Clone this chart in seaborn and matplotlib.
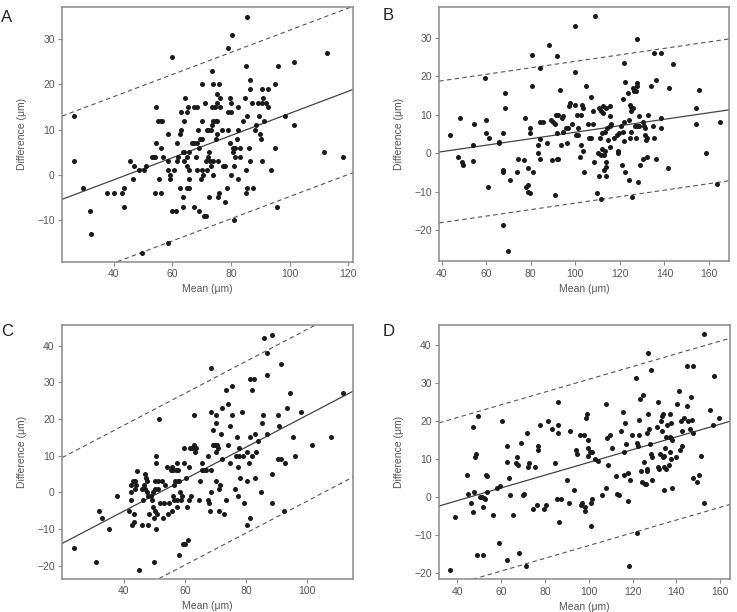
import numpy as np
import pandas as pd
import matplotlib
matplotlib.use("Agg")
import matplotlib.pyplot as plt
import seaborn as sns

# ---------------- Panel A ----------------
a_mean = [26.5, 26.5, 29.4, 31.9, 32.4, 37.8, 40.0, 43.0, 43.5, 43.5, 45.6, 46.5, 46.9, 48.5, 50.5,
          51.0, 49.5, 53.1, 53.8, 54.2, 54.0, 54.4, 54.4, 55.2, 56.0, 55.5, 56.0, 56.0, 56.9, 56.5,
          58.4, 58.6, 58.6, 59.1, 58.5, 59.2, 60.0, 60.0, 61.1, 60.6, 61.5, 61.5, 62.0, 62.6, 62.6,
          63.1, 63.1, 63.5, 63.5, 63.6, 64.0, 64.0, 64.1, 64.4, 64.9, 64.9, 65.1, 65.1, 65.5, 65.7,
          65.7, 65.8, 65.7, 66.6, 67.4, 67.4, 67.4, 68.1, 68.3, 68.5, 68.5, 68.9, 69.1, 69.2, 69.4,
          69.9, 70.0, 70.0, 70.1, 70.0, 70.6, 70.8, 71.1, 71.5, 71.5, 71.7, 71.9, 72.2, 72.2, 72.6,
          72.6, 73.1, 73.1, 72.8, 73.5, 73.5, 73.5, 73.8, 74.0, 74.0, 74.0, 74.4, 74.8, 74.9, 75.1,
          75.1, 75.3, 75.3, 75.7, 75.7, 75.9, 76.0, 76.3, 76.3, 77.0, 77.2, 78.1, 78.1, 78.5, 79.0,
          79.0, 79.0, 79.7, 79.7, 80.1, 80.1, 80.1, 80.5, 80.6, 80.8, 81.0, 81.0, 81.4, 81.4, 81.9,
          82.4, 82.4, 82.5, 83.1, 83.1, 84.2, 84.8, 85.0, 85.1, 85.1, 85.3, 85.6, 85.6, 86.0, 86.5,
          86.5, 86.5, 87.0, 87.6, 88.2, 88.5, 89.3, 89.5, 89.9, 90.1, 90.5, 90.6, 90.8, 90.6, 91.3,
          91.9, 92.5, 92.5, 93.5, 95.1, 95.1, 95.6, 96.0, 98.5, 101.5, 101.5, 111.7, 112.7, 118.3]
a_diff = [13.0, 3.0, -3.0, -8.0, -13.1, -4.0, -4.0, -4.0, -3.0, -7.0, 3.0, -1.0, 2.0, 1.0, 1.0,
          2.0, -17.2, 4.0, 4.0, 4.0, -4.0, 15.0, 7.0, 12.0, 12.0, -1.0, 6.0, -4.0, 4.0, 12.0,
          9.0, 3.0, 1.0, 0.0, -15.0, -1.0, 26.0, -8.0, -8.0, 1.0, 3.0, 7.0, 4.0, -3.0, 9.0,
          10.0, 14.0, -5.0, -7.0, 5.0, 3.0, 5.0, 12.0, 17.0, 2.0, 4.0, -3.0, 14.0, 15.0, 1.0,
          -3.0, -1.0, 5.0, 7.0, 7.0, -7.0, 15.0, 4.0, 15.0, 1.0, 7.0, 10.0, -8.0, 6.0, 8.0,
          -1.0, 1.0, 12.0, 20.0, 8.0, 0.0, -9.0, 16.0, 3.0, -9.0, 1.0, 10.0, 4.0, 10.0, -5.0,
          5.0, 2.0, 10.0, 3.0, 23.0, 11.0, 15.0, 0.0, 3.0, 12.0, 20.0, 15.0, 12.0, 8.0, 18.0,
          16.0, 12.0, 9.0, -5.0, 3.0, 20.0, -4.0, 15.0, 17.0, 10.0, 2.0, 2.0, -6.0, -3.0, 10.0,
          14.0, 28.0, 17.0, 7.0, 14.0, 16.0, 0.0, 31.0, 5.0, 6.0, -10.0, 2.0, 6.0, 4.0, 8.0,
          10.0, 15.0, -1.0, 6.0, 4.0, 12.0, 17.0, 24.0, 1.0, -4.0, 13.0, 35.0, -3.0, 6.0, 21.0,
          19.0, 3.0, 16.0, -3.0, 10.0, 11.0, 16.0, 13.0, 9.0, 8.0, 16.0, 19.0, 17.0, 3.0, 12.0,
          16.0, 19.0, 15.0, 1.0, 20.0, 6.0, -7.0, 24.0, 13.0, 25.0, 11.0, 5.0, 27.0, 4.0]

# ---------------- Panel B ----------------
b_mean = [43.9, 47.6, 48.5, 49.4, 49.7, 54.2, 54.2, 54.5, 59.4, 59.9, 60.0, 60.8, 61.2, 65.7, 66.0,
          67.7, 67.7, 67.8, 67.4, 68.4, 68.4, 69.9, 70.8, 73.8, 74.1, 77.2, 77.5, 78.0, 78.7, 79.0,
          79.0, 79.5, 79.8, 79.9, 80.5, 80.5, 81.0, 83.1, 83.4, 84.0, 84.4, 84.4, 84.4, 85.3, 87.1,
          88.3, 88.9, 89.4, 89.8, 90.9, 90.9, 91.3, 91.6, 91.8, 91.9, 92.2, 92.4, 93.3, 93.6, 93.9,
          94.3, 94.6, 95.8, 96.1, 96.7, 97.1, 97.6, 98.5, 99.8, 99.8, 100.1, 100.3, 100.6, 101.2, 101.2,
          102.1, 102.4, 102.5, 103.1, 103.3, 103.6, 104.0, 104.6, 105.5, 106.3, 107.2, 107.2, 107.8, 107.8, 108.5,
          108.8, 109.7, 110.3, 110.6, 110.8, 110.9, 111.4, 111.4, 111.7, 111.8, 112.1, 112.4, 112.6, 112.8, 113.0,
          113.3, 113.4, 113.6, 113.6, 113.7, 114.0, 114.3, 114.6, 115.5, 115.7, 115.8, 115.8, 116.1, 117.3, 118.8,
          119.3, 119.3, 119.7, 120.7, 121.1, 121.2, 121.5, 121.8, 121.8, 122.0, 122.1, 122.3, 123.5, 123.9, 124.2,
          124.4, 124.7, 124.8, 125.1, 125.1, 125.3, 125.7, 126.0, 126.3, 126.8, 127.1, 127.4, 127.5, 127.7, 127.7,
          127.8, 128.3, 128.4, 128.7, 129.0, 130.2, 130.5, 131.0, 131.3, 131.4, 131.7, 132.0, 132.3, 132.6, 133.8,
          135.0, 135.4, 135.4, 136.0, 136.2, 138.3, 138.3, 138.6, 141.6, 142.0, 144.0, 154.0, 154.0, 155.5, 158.6,
          163.7, 164.8]
b_diff = [4.6, -1.0, 9.1, -2.4, -3.0, 2.1, -2.0, 7.6, 19.5, 5.1, 8.5, -8.9, 4.0, 3.0, 2.6,
          5.1, -4.4, -4.9, -18.6, 15.6, 11.6, -25.4, -6.9, -4.9, -1.5, -1.9, 9.1, -8.9, -8.4, -3.9,
          -10.0, -10.4, 5.1, 6.6, 25.5, 17.5, -4.9, 0.1, 2.1, -1.5, 22.0, 8.0, 3.6, 8.0, 2.6,
          28.0, 8.5, -1.9, 8.0, 7.6, -11.0, 10.0, -1.5, 5.1, 25.1, -1.5, 10.0, 16.5, 2.1, 9.1,
          9.6, 5.5, 6.6, 2.6, 6.6, 12.1, 13.0, 7.6, 33.0, 21.1, 12.5, 4.6, 10.0, 6.6, 4.6,
          -1.0, 10.0, 2.1, 12.5, 0.5, 11.6, -4.9, 17.5, 7.6, 4.0, 14.5, 4.0, 11.0, 7.6, -2.4,
          35.6, -10.4, 0.1, -5.9, 11.6, 4.0, -0.5, -12.0, 11.0, 5.1, 1.0, 10.5, 12.1, -0.5, -4.4,
          5.5, 0.6, 11.6, -5.9, -3.5, -2.4, 6.6, 3.5, 12.1, 9.6, 1.6, 7.1, 7.6, 4.0, 4.6,
          0.1, 0.6, 5.1, 7.1, -3.0, 5.5, 14.1, 23.5, 8.0, 3.1, -4.9, 18.5, 15.6, -6.9, 8.5,
          12.5, 4.0, 5.5, 11.0, 12.0, -11.4, 17.0, 11.6, 16.1, 7.1, 16.1, 4.0, 18.1, 17.5, 29.6,
          7.1, -7.5, 7.1, 9.6, -3.0, -1.5, 8.0, 7.1, 4.6, 6.6, 3.5, -1.0, 4.0, 10.0, 17.5,
          7.1, 26.1, 4.0, 19.0, -1.5, 9.1, 6.6, 26.1, -3.9, 17.0, 23.1, 11.6, 7.6, 16.5, 0.1,
          -8.0, 8.0]

# ---------------- Panel C ----------------
c_mean = [23.8, 30.9, 31.9, 32.8, 35.3, 37.9, 41.9, 42.3, 42.4, 42.4, 42.9, 43.0, 43.4, 43.4, 43.7,
          43.8, 44.1, 44.5, 44.9, 45.9, 46.1, 46.5, 46.7, 46.9, 47.1, 47.3, 47.5, 47.8, 48.0, 48.1,
          48.4, 48.8, 49.2, 49.5, 49.7, 49.9, 49.9, 50.1, 50.1, 50.4, 50.5, 50.5, 50.6, 50.8, 51.2,
          51.3, 51.7, 51.9, 52.4, 53.0, 53.1, 53.5, 54.1, 54.4, 54.9, 55.4, 55.8, 55.9, 56.0, 56.2,
          56.5, 56.6, 56.9, 57.1, 57.3, 57.5, 57.6, 57.8, 57.9, 58.0, 58.2, 58.5, 58.7, 59.1, 59.4,
          59.6, 59.6, 60.2, 60.5, 60.7, 60.9, 61.2, 61.5, 61.7, 61.9, 62.5, 63.0, 63.1, 63.3, 63.4,
          63.8, 64.6, 65.1, 65.5, 65.7, 66.2, 66.9, 67.6, 67.7, 68.0, 68.1, 68.6, 68.6, 68.6, 68.7,
          69.2, 69.3, 69.8, 70.2, 70.2, 70.2, 70.2, 70.6, 70.7, 71.0, 71.1, 71.5, 71.7, 72.1, 72.2,
          72.8, 73.6, 73.6, 74.0, 74.2, 74.6, 74.7, 75.3, 75.3, 76.4, 76.7, 77.1, 77.2, 77.3, 77.6,
          77.8, 77.9, 78.7, 78.9, 79.3, 80.2, 80.3, 80.4, 80.8, 81.3, 81.4, 81.3, 81.8, 81.9, 82.6,
          82.9, 82.9, 83.2, 83.9, 84.9, 85.3, 85.4, 85.9, 86.7, 86.8, 86.9, 88.3, 88.3, 88.4, 90.3,
          90.4, 90.8, 91.4, 91.5, 92.3, 92.8, 93.4, 94.4, 95.4, 96.0, 98.0, 101.6, 107.6, 111.7]
c_diff = [-15.1, -19.1, -5.0, -7.0, -10.0, -1.0, -5.0, 2.0, 0.0, -2.0, -9.0, 3.0, -8.0, -6.0, 3.0,
          1.0, 2.0, 5.9, -21.1, -9.0, 1.0, -2.0, 2.0, 5.0, 1.0, 4.0, 0.0, 3.0, -1.0, -9.0,
          -6.0, -1.0, -2.0, 0.0, -4.0, -19.1, -7.0, 3.0, 1.0, -5.0, 10.0, 8.0, -10.0, -6.0, 1.0,
          3.0, 20.0, -3.0, 3.0, -7.0, -3.0, 2.0, 7.0, -6.0, -3.0, 6.0, -5.0, 7.0, -1.0, 6.0,
          2.0, -2.0, 3.0, 6.0, 8.0, -4.0, -2.0, 3.0, 6.0, -17.1, 3.0, 0.0, -2.0, -1.0, -14.0,
          8.0, 12.0, -14.0, 4.0, -4.0, -13.0, 7.0, -2.0, 12.0, -1.0, 12.0, 21.0, 13.0, 11.0, 12.0,
          12.0, -2.0, 3.0, 6.0, 8.0, 6.0, 6.0, -2.0, 10.0, -3.0, -5.0, 6.0, 0.0, 34.0, 22.0,
          17.0, 13.0, 13.0, 21.0, 19.0, 11.0, 3.0, 13.0, 12.0, 1.0, -5.0, 2.0, 16.0, 23.0, 9.0,
          -6.0, 28.0, -2.0, 24.0, 13.0, 18.0, 8.0, 21.0, 29.0, 1.0, 10.0, 15.0, 7.0, -1.0, 10.0,
          12.0, 4.0, 22.0, 10.0, -3.0, 11.0, 3.0, -9.0, 8.0, 15.0, -7.0, 31.0, 28.0, 10.0, 31.0,
          16.0, 4.0, 11.0, 14.0, 0.0, 19.0, 21.0, 42.0, 38.0, 32.0, 16.0, 43.0, 5.0, -3.0, 21.0,
          9.0, 18.0, 9.0, 35.0, -5.0, 8.0, 23.0, 27.0, 15.0, 10.0, 22.0, 13.0, 15.0, 27.0]

# ---------------- Panel D ----------------
d_mean = [36.8, 38.8, 44.3, 44.7, 46.1, 47.0, 47.3, 47.6, 48.1, 48.5, 48.8, 49.6, 50.4, 51.1, 51.6,
          51.9, 52.0, 52.6, 53.1, 53.4, 53.5, 56.4, 58.0, 59.2, 59.6, 60.4, 62.5, 62.5, 62.5, 63.7,
          64.2, 65.6, 66.6, 67.1, 67.9, 68.3, 68.9, 69.8, 70.4, 71.2, 71.8, 72.4, 72.9, 74.7, 75.3,
          76.2, 76.7, 77.0, 77.7, 79.7, 80.3, 81.2, 83.2, 84.7, 85.5, 85.8, 85.8, 85.8, 86.4, 87.5,
          90.1, 91.0, 91.4, 93.3, 94.2, 94.5, 96.0, 96.3, 96.9, 97.8, 98.1, 98.4, 98.8, 99.2, 99.5,
          99.7, 99.8, 100.6, 100.9, 101.0, 101.3, 101.5, 102.9, 104.4, 105.9, 107.9, 108.0, 108.5, 108.8, 109.9,
          110.6, 112.5, 112.8, 114.0, 114.6, 115.8, 116.1, 116.3, 116.6, 117.0, 117.8, 118.1, 118.2, 119.0, 119.8,
          121.4, 121.9, 122.0, 122.6, 122.8, 123.1, 123.3, 123.9, 124.3, 124.8, 125.2, 125.7, 126.1, 126.6, 126.6,
          126.8, 127.1, 127.2, 127.4, 128.1, 128.4, 128.6, 128.9, 129.0, 131.0, 131.5, 131.8, 132.2, 132.5, 133.2,
          133.5, 133.5, 133.8, 134.0, 134.2, 134.2, 134.4, 134.7, 135.3, 135.4, 135.6, 136.7, 137.0, 137.1, 137.3,
          137.4, 137.6, 137.6, 137.9, 138.0, 139.8, 140.1, 141.2, 141.7, 142.1, 142.4, 142.4, 143.7, 144.9, 145.0,
          145.3, 146.1, 146.8, 147.0, 147.5, 147.6, 147.8, 149.3, 150.2, 151.4, 152.8, 152.8, 155.5, 156.7, 157.2,
          159.6]
d_diff = [-19.1, -5.1, 6.0, 1.0, -1.5, 18.5, -4.0, 1.4, 10.5, 11.4, -15.1, 21.5, 0.0, 0.0, -2.5,
          -15.1, -0.3, -0.5, 6.0, 5.5, 1.4, -4.6, 2.5, -12.1, 2.9, 20.0, 9.4, 13.5, -16.6, 5.0,
          0.5, -4.6, 9.0, 10.5, 8.5, -14.6, 14.4, 0.5, 1.0, -18.1, 17.0, 8.0, 9.0, -3.1, 8.0,
          -2.0, 13.5, 12.5, 19.0, -3.1, -2.0, 20.0, 18.0, 9.0, -0.5, 25.0, 19.0, 17.0, -6.6, -0.5,
          4.5, -1.5, 17.5, 2.0, 12.5, 11.4, 16.5, -2.0, -1.5, 16.5, -3.6, -2.5, 21.0, 22.0, 11.0,
          13.0, 15.0, 12.0, -1.5, -7.6, 12.0, -0.5, 10.0, 9.5, 0.5, 2.5, 24.5, 15.5, 8.5, 16.5,
          13.0, 5.5, 1.0, 0.5, 17.4, 22.5, 6.0, 12.0, 19.5, 14.0, -1.1, 6.4, -18.1, 4.5, 16.5,
          31.5, 14.4, -9.5, 13.5, 20.4, 16.5, 26.0, 7.0, 4.0, 27.0, 9.4, 3.5, 3.4, 17.0, 7.4,
          7.0, 38.0, 22.0, 18.0, 14.0, 33.5, 11.4, 10.5, 4.5, 18.5, 8.0, 25.0, 7.5, 11.4, 20.0,
          21.5, 17.5, 10.5, 22.0, 2.0, 8.0, 11.0, 13.0, 16.0, 7.5, 19.0, 8.5, 16.0, 12.0, 22.0,
          10.0, 15.5, 19.5, 15.0, 2.5, 10.5, 24.5, 28.0, 12.5, 20.0, 13.5, 17.5, 21.0, 34.5, 24.0,
          20.0, 18.0, 26.5, 20.5, 5.0, 17.0, 34.5, 4.0, 6.0, 11.0, -1.5, 43.0, 23.0, 19.0, 32.0,
          21.0]

# Regression lines (intercept, slope) and half-width of limits of agreement
fit_intercept = [-10.9, -3.0, -22.66, -7.61]
fit_slope = [0.245, 0.0842, 0.437, 0.168]
loa_half = [18.4, 18.4, 23.4, 21.9]

panel_labels = ["A", "B", "C", "D"]
x_ticks = [[40, 60, 80, 100, 120], [40, 60, 80, 100, 120, 140, 160],
           [40, 60, 80, 100], [40, 60, 80, 100, 120, 140, 160]]
y_ticks = [[-10, 0, 10, 20, 30], [-20, -10, 0, 10, 20, 30],
           [-20, -10, 0, 10, 20, 30, 40], [-20, -10, 0, 10, 20, 30, 40]]
x_lims = [(22.5, 121.7), (39.0, 169.1), (20.0, 115.0), (31.8, 164.5)]
y_lims = [(-19.2, 37.2), (-28.0, 38.0), (-23.5, 45.6), (-21.6, 45.4)]

sns.set_theme(style="white")
plt.rcParams['font.family'] = ['Liberation Sans', 'DejaVu Sans']

W, H = 737, 612
fig = plt.figure(figsize=(W / 100, H / 100), dpi=100)

# axes boxes in pixels: left, top, right, bottom
boxes = [(62.3, 6.7, 353.3, 261.7), (439.3, 6.7, 729.3, 261.0),
         (62.3, 325.0, 353.3, 578.5), (439.3, 325.0, 730.0, 579.3)]
label_pos = [(1, 17), (383, 16), (1, 332), (383, 331)]

means = [a_mean, b_mean, c_mean, d_mean]
diffs = [a_diff, b_diff, c_diff, d_diff]

text_col = "#555555"
spine_col = "#8a8a8a"

for i in range(4):
    l, t, r, b = boxes[i]
    ax = fig.add_axes([l / W, 1 - b / H, (r - l) / W, (b - t) / H])
    df = pd.DataFrame({"mean": means[i], "diff": diffs[i]})
    sns.scatterplot(data=df, x="mean", y="diff", ax=ax, color="#1a1a1a",
                    s=13, linewidth=0, zorder=3)
    ax.axline((0, fit_intercept[i]), slope=fit_slope[i], color="#444444", lw=0.9, zorder=2)
    ax.axline((0, fit_intercept[i] + loa_half[i]), slope=fit_slope[i], color="#555555",
              lw=0.8, ls=(0, (4, 3)), zorder=2)
    ax.axline((0, fit_intercept[i] - loa_half[i]), slope=fit_slope[i], color="#555555",
              lw=0.8, ls=(0, (4, 3)), zorder=2)
    ax.set_xlim(*x_lims[i])
    ax.set_ylim(*y_lims[i])
    ax.set_xticks(x_ticks[i])
    ax.set_yticks(y_ticks[i])
    ax.tick_params(axis="both", which="major", direction="out", length=3, width=0.8,
                   color=spine_col, labelsize=7.5, labelcolor=text_col, pad=2.5,
                   bottom=True, left=True)
    for sp in ax.spines.values():
        sp.set_color(spine_col)
        sp.set_linewidth(1.1)
    ax.set_xlabel("Mean (μm)", fontsize=7.5, color=text_col, labelpad=3.5)
    ax.set_ylabel("Difference (μm)", fontsize=7.5, color=text_col, labelpad=7)
    fig.text(label_pos[i][0] / W, 1 - label_pos[i][1] / H, panel_labels[i],
             fontsize=12, color="#222222", va="center", ha="left")

fig.savefig("out.png", dpi=100)
